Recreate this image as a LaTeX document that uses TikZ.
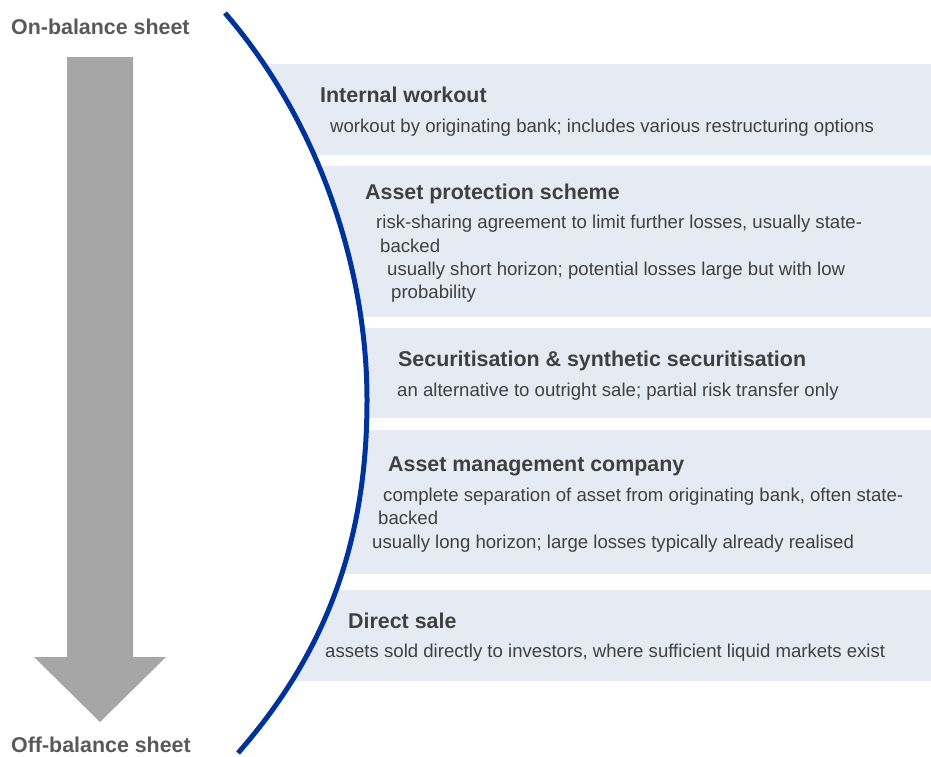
\documentclass[tikz,border=0pt]{standalone}
\usepackage{xcolor}
\usepackage{fontspec}
\usepackage{tikz}
\setmainfont{Liberation Sans}

\definecolor{boxblue}{HTML}{E6EAF3}
\definecolor{curveblue}{HTML}{003399}
\definecolor{arrowgray}{HTML}{A6A6A6}
\definecolor{textgray}{HTML}{404040}
\definecolor{sidegray}{HTML}{595959}

\begin{document}
\begin{tikzpicture}[x=1pt, y=-1pt, every node/.style={inner sep=0pt, anchor=base west, text=textgray}]
	\useasboundingbox (0, 0) rectangle (931, 756);
	
	\begin{scope}
		\clip (225, 13) .. controls (320, 123) and (367, 270) .. (367, 400) .. controls (367, 530) and (333, 645) .. (238, 753) -- (931, 760) -- (931, 0) -- cycle;
		\fill[boxblue] (250, 64) rectangle (931, 155);
		\fill[boxblue] (250, 166) rectangle (931, 317);
		\fill[boxblue] (250, 328) rectangle (931, 418);
		\fill[boxblue] (250, 430) rectangle (931, 574);
		\fill[boxblue] (250, 590) rectangle (931, 681);
	\end{scope}
	
	\draw[fill=arrowgray, draw=none] (67, 57) -- (133, 57) -- (133, 657) -- (166, 657) -- (100, 722) -- (34, 657) -- (67, 657) -- cycle;
	
	\draw[curveblue, line width=5pt] (225, 13) .. controls (320, 123) and (367, 270) .. (367, 400) .. controls (367, 530) and (333, 645) .. (238, 753);
	
	\begin{scope}[
		side/.style={text=sidegray, font=\fontsize{21.4}{24}\selectfont\bfseries},
		heading/.style={font=\fontsize{21.4}{24}\selectfont\bfseries},
		detail/.style={font=\fontsize{18.6}{23}\selectfont}]
		\node[side] (OnSheet) at (11, 34) {On-balance sheet};
		\node[side] (OffSheet) at (11, 752) {Off-balance sheet};
		
		\node[heading] (H1) at (320, 102) {Internal workout};
		\node[detail] (D1a) at (330, 132) {workout by originating bank; includes various restructuring options};
		
		\node[heading] (H2) at (365, 199) {Asset protection scheme};
		\node[detail] (D2a) at (376, 228) {risk-sharing agreement to limit further losses, usually state-};
		\node[detail] (D2b) at (380, 252) {backed};
		\node[detail] (D2c) at (387, 275) {usually short horizon; potential losses large but with low};
		\node[detail] (D2d) at (391, 298) {probability};
		
		\node[heading] (H3) at (398, 366) {Securitisation \& synthetic securitisation};
		\node[detail] (D3a) at (397, 396) {an alternative to outright sale; partial risk transfer only};
		
		\node[heading] (H4) at (388, 471) {Asset management company};
		\node[detail] (D4a) at (383, 501) {complete separation of asset from originating bank, often state-};
		\node[detail] (D4b) at (378, 524) {backed};
		\node[detail] (D4c) at (372, 548) {usually long horizon; large losses typically already realised};
		
		\node[heading] (H5) at (348, 628) {Direct sale};
		\node[detail] (D5a) at (325, 657) {assets sold directly to investors, where sufficient liquid markets exist};
	\end{scope}
\end{tikzpicture}
\end{document}
